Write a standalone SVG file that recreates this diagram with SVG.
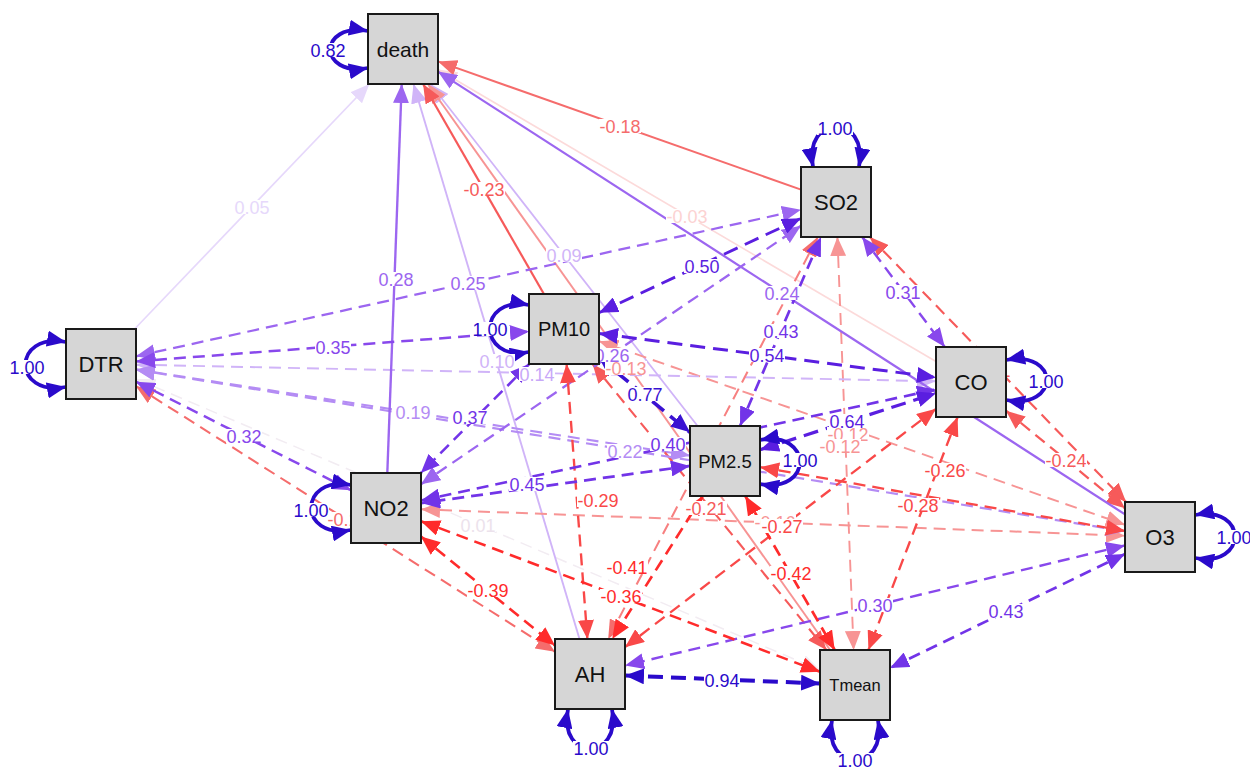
<svg xmlns="http://www.w3.org/2000/svg" width="1250" height="769" viewBox="0 0 1250 769">
<style>
line{fill:none}
.lp{fill:none;stroke:#2a0acb;stroke-width:3.8}
.d{stroke-dasharray:12 7}
.d2{stroke-dasharray:15 8}
.nr{fill:#d6d6d6;stroke:#1a1a1a;stroke-width:2}
.nt{font-family:"Liberation Sans",Arial,sans-serif;text-anchor:middle;fill:#111}
.lt{font-family:"Liberation Sans",Arial,sans-serif;font-size:18px;text-anchor:middle}
.bg{fill:#fff}
</style>
<defs>
<marker id="mB1" viewBox="0 0 19 16" refX="19" refY="8" markerWidth="19" markerHeight="16" markerUnits="userSpaceOnUse" orient="auto-start-reverse"><path d="M0,0L19,8L0,16z" style="fill:#2a0acb"/></marker>
<marker id="mB2" viewBox="0 0 19 16" refX="19" refY="8" markerWidth="19" markerHeight="16" markerUnits="userSpaceOnUse" orient="auto-start-reverse"><path d="M0,0L19,8L0,16z" style="fill:#3a12d2"/></marker>
<marker id="mP1" viewBox="0 0 19 16" refX="19" refY="8" markerWidth="19" markerHeight="16" markerUnits="userSpaceOnUse" orient="auto-start-reverse"><path d="M0,0L19,8L0,16z" style="fill:#5a1ee0"/></marker>
<marker id="mP2" viewBox="0 0 19 16" refX="19" refY="8" markerWidth="19" markerHeight="16" markerUnits="userSpaceOnUse" orient="auto-start-reverse"><path d="M0,0L19,8L0,16z" style="fill:#7234e8"/></marker>
<marker id="mP3" viewBox="0 0 19 16" refX="19" refY="8" markerWidth="19" markerHeight="16" markerUnits="userSpaceOnUse" orient="auto-start-reverse"><path d="M0,0L19,8L0,16z" style="fill:#8848ec"/></marker>
<marker id="mP4" viewBox="0 0 19 16" refX="19" refY="8" markerWidth="19" markerHeight="16" markerUnits="userSpaceOnUse" orient="auto-start-reverse"><path d="M0,0L19,8L0,16z" style="fill:#9c66f0"/></marker>
<marker id="mP5" viewBox="0 0 19 16" refX="19" refY="8" markerWidth="19" markerHeight="16" markerUnits="userSpaceOnUse" orient="auto-start-reverse"><path d="M0,0L19,8L0,16z" style="fill:#b48cf4"/></marker>
<marker id="mP6" viewBox="0 0 19 16" refX="19" refY="8" markerWidth="19" markerHeight="16" markerUnits="userSpaceOnUse" orient="auto-start-reverse"><path d="M0,0L19,8L0,16z" style="fill:#d0b4f8"/></marker>
<marker id="mP7" viewBox="0 0 19 16" refX="19" refY="8" markerWidth="19" markerHeight="16" markerUnits="userSpaceOnUse" orient="auto-start-reverse"><path d="M0,0L19,8L0,16z" style="fill:#e6d8fb"/></marker>
<marker id="mP8" viewBox="0 0 19 16" refX="19" refY="8" markerWidth="19" markerHeight="16" markerUnits="userSpaceOnUse" orient="auto-start-reverse"><path d="M0,0L19,8L0,16z" style="fill:#f2ecf2"/></marker>
<marker id="mR1" viewBox="0 0 19 16" refX="19" refY="8" markerWidth="19" markerHeight="16" markerUnits="userSpaceOnUse" orient="auto-start-reverse"><path d="M0,0L19,8L0,16z" style="fill:#ff2b2b"/></marker>
<marker id="mR2" viewBox="0 0 19 16" refX="19" refY="8" markerWidth="19" markerHeight="16" markerUnits="userSpaceOnUse" orient="auto-start-reverse"><path d="M0,0L19,8L0,16z" style="fill:#f94848"/></marker>
<marker id="mR3" viewBox="0 0 19 16" refX="19" refY="8" markerWidth="19" markerHeight="16" markerUnits="userSpaceOnUse" orient="auto-start-reverse"><path d="M0,0L19,8L0,16z" style="fill:#f65a5a"/></marker>
<marker id="mR4" viewBox="0 0 19 16" refX="19" refY="8" markerWidth="19" markerHeight="16" markerUnits="userSpaceOnUse" orient="auto-start-reverse"><path d="M0,0L19,8L0,16z" style="fill:#f56c6c"/></marker>
<marker id="mR5" viewBox="0 0 19 16" refX="19" refY="8" markerWidth="19" markerHeight="16" markerUnits="userSpaceOnUse" orient="auto-start-reverse"><path d="M0,0L19,8L0,16z" style="fill:#f79494"/></marker>
<marker id="mR6" viewBox="0 0 19 16" refX="19" refY="8" markerWidth="19" markerHeight="16" markerUnits="userSpaceOnUse" orient="auto-start-reverse"><path d="M0,0L19,8L0,16z" style="fill:#fcdada"/></marker>
</defs>
<rect width="1250" height="769" fill="#fff"/>
<g id="connectors">
<line x1="136" y1="378.9" x2="820" y2="670.1" stroke="#f2ecf2" stroke-width="1.5" class="d" marker-start="url(#mP8)" marker-end="url(#mP8)"/>
<line x1="936" y1="361.5" x2="438" y2="69.5" stroke="#fcdada" stroke-width="1.6" marker-end="url(#mR6)"/>
<line x1="134.6" y1="329" x2="369.4" y2="84" stroke="#e6d8fb" stroke-width="1.7" marker-end="url(#mP7)"/>
<line x1="697.6" y1="426" x2="430.4" y2="84" stroke="#d0b4f8" stroke-width="1.8" marker-end="url(#mP6)"/>
<line x1="579.5" y1="639" x2="413.5" y2="84" stroke="#d0b4f8" stroke-width="1.9" marker-end="url(#mP6)"/>
<line x1="599" y1="341.2" x2="1125" y2="524.8" stroke="#f79494" stroke-width="1.9" class="d" marker-start="url(#mR5)" marker-end="url(#mR5)"/>
<line x1="837.4" y1="237" x2="853.6" y2="650" stroke="#f79494" stroke-width="1.9" class="d" marker-start="url(#mR5)" marker-end="url(#mR5)"/>
<line x1="830.1" y1="650" x2="427.9" y2="84" stroke="#f79494" stroke-width="1.95" marker-end="url(#mR5)"/>
<line x1="136" y1="364.7" x2="936" y2="381.3" stroke="#d0b4f8" stroke-width="1.95" class="d" marker-start="url(#mP6)" marker-end="url(#mP6)"/>
<line x1="421" y1="509.3" x2="1125" y2="535.7" stroke="#f79494" stroke-width="2" class="d" marker-start="url(#mR5)" marker-end="url(#mR5)"/>
<line x1="801" y1="189.6" x2="438" y2="61.4" stroke="#f56c6c" stroke-width="2.05" marker-end="url(#mR4)"/>
<line x1="136" y1="386.2" x2="555" y2="651.8" stroke="#f56c6c" stroke-width="2.05" class="d" marker-start="url(#mR4)" marker-end="url(#mR4)"/>
<line x1="817.8" y1="237" x2="608.2" y2="639" stroke="#f78080" stroke-width="2.05" class="d" marker-start="url(#mR4)" marker-end="url(#mR4)"/>
<line x1="136" y1="369.4" x2="690" y2="455.6" stroke="#b48cf4" stroke-width="2.1" class="d" marker-start="url(#mP5)" marker-end="url(#mP5)"/>
<line x1="592.6" y1="364" x2="826.4" y2="650" stroke="#f65a5a" stroke-width="2.15" class="d" marker-start="url(#mR3)" marker-end="url(#mR3)"/>
<line x1="869.9" y1="237" x2="1126.1" y2="502" stroke="#f65a5a" stroke-width="2.15" class="d" marker-start="url(#mR3)" marker-end="url(#mR3)"/>
<line x1="136" y1="369.7" x2="1125" y2="531.3" stroke="#b48cf4" stroke-width="2.2" class="d" marker-start="url(#mP5)" marker-end="url(#mP5)"/>
<line x1="543.9" y1="294" x2="423.1" y2="84" stroke="#f65a5a" stroke-width="2.2" marker-end="url(#mR3)"/>
<line x1="1006" y1="410.7" x2="1125" y2="508.3" stroke="#f65a5a" stroke-width="2.25" class="d" marker-start="url(#mR3)" marker-end="url(#mR3)"/>
<line x1="1125" y1="514.4" x2="438" y2="71.6" stroke="#9c66f0" stroke-width="2.25" marker-end="url(#mP4)"/>
<line x1="136" y1="356.3" x2="801" y2="209.7" stroke="#9c66f0" stroke-width="2.25" class="d" marker-start="url(#mP4)" marker-end="url(#mP4)"/>
<line x1="421" y1="484.2" x2="801" y2="225.8" stroke="#9c66f0" stroke-width="2.3" class="d" marker-start="url(#mP4)" marker-end="url(#mP4)"/>
<line x1="760" y1="467.1" x2="1125" y2="530.9" stroke="#f94848" stroke-width="2.3" class="d" marker-start="url(#mR2)" marker-end="url(#mR2)"/>
<line x1="936" y1="408.8" x2="625" y2="647.2" stroke="#f94848" stroke-width="2.3" class="d" marker-start="url(#mR2)" marker-end="url(#mR2)"/>
<line x1="387.3" y1="473" x2="401.7" y2="84" stroke="#9c66f0" stroke-width="2.35" marker-end="url(#mP4)"/>
<line x1="957.6" y1="417" x2="868.4" y2="650" stroke="#f94848" stroke-width="2.35" class="d" marker-start="url(#mR2)" marker-end="url(#mR2)"/>
<line x1="566.6" y1="364" x2="587.4" y2="639" stroke="#f94848" stroke-width="2.35" class="d" marker-start="url(#mR2)" marker-end="url(#mR2)"/>
<line x1="1125" y1="545.4" x2="625" y2="665.6" stroke="#8848ec" stroke-width="2.4" class="d" marker-start="url(#mP3)" marker-end="url(#mP3)"/>
<line x1="862.2" y1="237" x2="944.8" y2="347" stroke="#8848ec" stroke-width="2.4" class="d" marker-start="url(#mP3)" marker-end="url(#mP3)"/>
<line x1="136" y1="381.7" x2="351" y2="490.3" stroke="#8848ec" stroke-width="2.45" class="d" marker-start="url(#mP3)" marker-end="url(#mP3)"/>
<line x1="136" y1="361.4" x2="529" y2="331.6" stroke="#8848ec" stroke-width="2.5" class="d" marker-start="url(#mP3)" marker-end="url(#mP3)"/>
<line x1="421" y1="521.2" x2="820" y2="671.8" stroke="#ff2b2b" stroke-width="2.55" class="d" marker-start="url(#mR1)" marker-end="url(#mR1)"/>
<line x1="529.2" y1="364" x2="420.8" y2="473" stroke="#7234e8" stroke-width="2.55" class="d" marker-start="url(#mP2)" marker-end="url(#mP2)"/>
<line x1="421" y1="536.5" x2="555" y2="645.5" stroke="#ff2b2b" stroke-width="2.6" class="d" marker-start="url(#mR1)" marker-end="url(#mR1)"/>
<line x1="421" y1="500.5" x2="936" y2="389.5" stroke="#7234e8" stroke-width="2.6" class="d" marker-start="url(#mP2)" marker-end="url(#mP2)"/>
<line x1="702.8" y1="496" x2="612.2" y2="639" stroke="#ff2b2b" stroke-width="2.65" class="d" marker-start="url(#mR1)" marker-end="url(#mR1)"/>
<line x1="745.3" y1="496" x2="834.7" y2="650" stroke="#ff2b2b" stroke-width="2.7" class="d" marker-start="url(#mR1)" marker-end="url(#mR1)"/>
<line x1="740" y1="426" x2="821" y2="237" stroke="#7234e8" stroke-width="2.7" class="d" marker-start="url(#mP2)" marker-end="url(#mP2)"/>
<line x1="1125" y1="554" x2="890" y2="668" stroke="#7234e8" stroke-width="2.7" class="d" marker-start="url(#mP2)" marker-end="url(#mP2)"/>
<line x1="690" y1="465.9" x2="421" y2="503.1" stroke="#7234e8" stroke-width="2.75" class="d" marker-start="url(#mP2)" marker-end="url(#mP2)"/>
<line x1="599" y1="312.7" x2="801" y2="218.3" stroke="#5a1ee0" stroke-width="2.9" class="d2" marker-start="url(#mP1)" marker-end="url(#mP1)"/>
<line x1="599" y1="333.6" x2="936" y2="377.4" stroke="#5a1ee0" stroke-width="3" class="d2" marker-start="url(#mP1)" marker-end="url(#mP1)"/>
<line x1="760" y1="449.8" x2="936" y2="393.2" stroke="#5a1ee0" stroke-width="3.25" class="d2" marker-start="url(#mP1)" marker-end="url(#mP1)"/>
<line x1="599" y1="357.7" x2="690" y2="432.3" stroke="#3a12d2" stroke-width="3.6" class="d2" marker-start="url(#mB2)" marker-end="url(#mB2)"/>
<line x1="625" y1="675.5" x2="820" y2="683.5" stroke="#2a0acb" stroke-width="4" class="d2" marker-start="url(#mB1)" marker-end="url(#mB1)"/>
<path class="lp" d="M368,31 C318,22 318,77 368,68" marker-start="url(#mB1)" marker-end="url(#mB1)"/>
<path class="lp" d="M813,167 C803,113 869,113 859,167" marker-start="url(#mB1)" marker-end="url(#mB1)"/>
<path class="lp" d="M66,342 C12,332 12,397 66,387" marker-start="url(#mB1)" marker-end="url(#mB1)"/>
<path class="lp" d="M529,305 C477,295 477,362 529,352" marker-start="url(#mB1)" marker-end="url(#mB1)"/>
<path class="lp" d="M351,485 C298,475 298,540 351,530" marker-start="url(#mB1)" marker-end="url(#mB1)"/>
<path class="lp" d="M1006,360 C1060,350 1060,410 1006,400" marker-start="url(#mB1)" marker-end="url(#mB1)"/>
<path class="lp" d="M760,440 C813,430 813,494 760,484" marker-start="url(#mB1)" marker-end="url(#mB1)"/>
<path class="lp" d="M1195,515 C1248,505 1248,568 1195,558" marker-start="url(#mB1)" marker-end="url(#mB1)"/>
<path class="lp" d="M568,709 C558,762 622,762 612,709" marker-start="url(#mB1)" marker-end="url(#mB1)"/>
<path class="lp" d="M832,720 C822,773 888,773 878,720" marker-start="url(#mB1)" marker-end="url(#mB1)"/>
</g>
<g id="labels">
<rect class="bg" x="460" y="518" width="36" height="14"/><text class="lt" x="478" y="531.5" fill="#ece2ec">0.01</text>
<rect class="bg" x="666" y="209" width="42" height="14"/><text class="lt" x="687" y="222.5" fill="#fcd2d2">-0.03</text>
<rect class="bg" x="234" y="200" width="36" height="14"/><text class="lt" x="252" y="213.5" fill="#e6d8fb">0.05</text>
<rect class="bg" x="546" y="248" width="36" height="14"/><text class="lt" x="564" y="261.5" fill="#d0b4f8">0.09</text>
<rect class="bg" x="479" y="354" width="36" height="14"/><text class="lt" x="497" y="367.5" fill="#d0b4f8">0.10</text>
<rect class="bg" x="827" y="427" width="42" height="14"/><text class="lt" x="848" y="440.5" fill="#f79494">-0.12</text>
<rect class="bg" x="819" y="439" width="42" height="14"/><text class="lt" x="840" y="452.5" fill="#f79494">-0.12</text>
<rect class="bg" x="605" y="361" width="42" height="14"/><text class="lt" x="626" y="374.5" fill="#f79494">-0.13</text>
<rect class="bg" x="519" y="367" width="36" height="14"/><text class="lt" x="537" y="380.5" fill="#c8a8f8">0.14</text>
<rect class="bg" x="754" y="515" width="42" height="14"/><text class="lt" x="775" y="528.5" fill="#f79494">-0.16</text>
<rect class="bg" x="599" y="119" width="42" height="14"/><text class="lt" x="620" y="132.5" fill="#f56c6c">-0.18</text>
<rect class="bg" x="327" y="512" width="42" height="14"/><text class="lt" x="348" y="525.5" fill="#f56c6c">-0.19</text>
<rect class="bg" x="395" y="405" width="36" height="14"/><text class="lt" x="413" y="418.5" fill="#b48cf4">0.19</text>
<rect class="bg" x="685" y="501" width="42" height="14"/><text class="lt" x="706" y="514.5" fill="#f65a5a">-0.21</text>
<rect class="bg" x="969" y="363" width="42" height="14"/><text class="lt" x="990" y="376.5" fill="#f65a5a">-0.21</text>
<rect class="bg" x="607" y="444" width="36" height="14"/><text class="lt" x="625" y="457.5" fill="#b48cf4">0.22</text>
<rect class="bg" x="463" y="182" width="42" height="14"/><text class="lt" x="484" y="195.5" fill="#f65a5a">-0.23</text>
<rect class="bg" x="1045" y="453" width="42" height="14"/><text class="lt" x="1066" y="466.5" fill="#f65a5a">-0.24</text>
<rect class="bg" x="764" y="286" width="36" height="14"/><text class="lt" x="782" y="299.5" fill="#9c66f0">0.24</text>
<rect class="bg" x="450" y="276" width="36" height="14"/><text class="lt" x="468" y="289.5" fill="#9c66f0">0.25</text>
<rect class="bg" x="594" y="348" width="36" height="14"/><text class="lt" x="612" y="361.5" fill="#9c66f0">0.26</text>
<rect class="bg" x="924" y="463" width="42" height="14"/><text class="lt" x="945" y="476.5" fill="#f94848">-0.26</text>
<rect class="bg" x="761" y="519" width="42" height="14"/><text class="lt" x="782" y="532.5" fill="#f94848">-0.27</text>
<rect class="bg" x="378" y="272" width="36" height="14"/><text class="lt" x="396" y="285.5" fill="#9c66f0">0.28</text>
<rect class="bg" x="897" y="498" width="42" height="14"/><text class="lt" x="918" y="511.5" fill="#f94848">-0.28</text>
<rect class="bg" x="577" y="493" width="42" height="14"/><text class="lt" x="598" y="506.5" fill="#f94848">-0.29</text>
<rect class="bg" x="857" y="598" width="36" height="14"/><text class="lt" x="875" y="611.5" fill="#8848ec">0.30</text>
<rect class="bg" x="885" y="285" width="36" height="14"/><text class="lt" x="903" y="298.5" fill="#8848ec">0.31</text>
<rect class="bg" x="226" y="429" width="36" height="14"/><text class="lt" x="244" y="442.5" fill="#8848ec">0.32</text>
<rect class="bg" x="315" y="340" width="36" height="14"/><text class="lt" x="333" y="353.5" fill="#8848ec">0.35</text>
<rect class="bg" x="600" y="589" width="42" height="14"/><text class="lt" x="621" y="602.5" fill="#ff2b2b">-0.36</text>
<rect class="bg" x="452" y="410" width="36" height="14"/><text class="lt" x="470" y="423.5" fill="#7234e8">0.37</text>
<rect class="bg" x="467" y="583" width="42" height="14"/><text class="lt" x="488" y="596.5" fill="#ff2b2b">-0.39</text>
<rect class="bg" x="650" y="437" width="36" height="14"/><text class="lt" x="668" y="450.5" fill="#7234e8">0.40</text>
<rect class="bg" x="606" y="560" width="42" height="14"/><text class="lt" x="627" y="573.5" fill="#ff2b2b">-0.41</text>
<rect class="bg" x="770" y="566" width="42" height="14"/><text class="lt" x="791" y="579.5" fill="#ff2b2b">-0.42</text>
<rect class="bg" x="763" y="324" width="36" height="14"/><text class="lt" x="781" y="337.5" fill="#7234e8">0.43</text>
<rect class="bg" x="988" y="604" width="36" height="14"/><text class="lt" x="1006" y="617.5" fill="#7234e8">0.43</text>
<rect class="bg" x="509" y="477" width="36" height="14"/><text class="lt" x="527" y="490.5" fill="#7234e8">0.45</text>
<rect class="bg" x="684" y="259" width="36" height="14"/><text class="lt" x="702" y="272.5" fill="#5a1ee0">0.50</text>
<rect class="bg" x="749" y="348" width="36" height="14"/><text class="lt" x="767" y="361.5" fill="#5a1ee0">0.54</text>
<rect class="bg" x="829" y="414" width="36" height="14"/><text class="lt" x="847" y="427.5" fill="#5a1ee0">0.64</text>
<rect class="bg" x="627" y="387" width="36" height="14"/><text class="lt" x="645" y="400.5" fill="#3a12d2">0.77</text>
<rect class="bg" x="704" y="673" width="36" height="14"/><text class="lt" x="722" y="686.5" fill="#2a0acb">0.94</text>
<rect class="bg" x="310" y="43" width="36" height="14"/><text class="lt" x="328" y="56.5" fill="#2a0acb">0.82</text>
<rect class="bg" x="817" y="121" width="36" height="14"/><text class="lt" x="835" y="134.5" fill="#2a0acb">1.00</text>
<rect class="bg" x="9" y="360" width="36" height="14"/><text class="lt" x="27" y="373.5" fill="#2a0acb">1.00</text>
<rect class="bg" x="472" y="322" width="36" height="14"/><text class="lt" x="490" y="335.5" fill="#2a0acb">1.00</text>
<rect class="bg" x="293" y="503" width="36" height="14"/><text class="lt" x="311" y="516.5" fill="#2a0acb">1.00</text>
<rect class="bg" x="1028" y="374" width="36" height="14"/><text class="lt" x="1046" y="387.5" fill="#2a0acb">1.00</text>
<rect class="bg" x="782" y="453" width="36" height="14"/><text class="lt" x="800" y="466.5" fill="#2a0acb">1.00</text>
<rect class="bg" x="1216" y="530" width="36" height="14"/><text class="lt" x="1234" y="543.5" fill="#2a0acb">1.00</text>
<rect class="bg" x="573" y="741" width="36" height="14"/><text class="lt" x="591" y="754.5" fill="#2a0acb">1.00</text>
<rect class="bg" x="837" y="753" width="36" height="14"/><text class="lt" x="855" y="766.5" fill="#2a0acb">1.00</text>
</g>
<g id="death"><rect class="nr" x="368" y="14" width="70" height="70"/><text class="nt" x="403" y="56.5" font-size="21">death</text></g>
<g id="SO2"><rect class="nr" x="801" y="167" width="70" height="70"/><text class="nt" x="836" y="210" font-size="22">SO2</text></g>
<g id="DTR"><rect class="nr" x="66" y="329" width="70" height="70"/><text class="nt" x="101" y="372" font-size="22">DTR</text></g>
<g id="PM10"><rect class="nr" x="529" y="294" width="70" height="70"/><text class="nt" x="564" y="336" font-size="20">PM10</text></g>
<g id="CO"><rect class="nr" x="936" y="347" width="70" height="70"/><text class="nt" x="971" y="390" font-size="22">CO</text></g>
<g id="PM2.5"><rect class="nr" x="690" y="426" width="70" height="70"/><text class="nt" x="725" y="467.5" font-size="18.5">PM2.5</text></g>
<g id="NO2"><rect class="nr" x="351" y="473" width="70" height="70"/><text class="nt" x="386" y="516" font-size="22">NO2</text></g>
<g id="O3"><rect class="nr" x="1125" y="502" width="70" height="70"/><text class="nt" x="1160" y="545" font-size="22">O3</text></g>
<g id="AH"><rect class="nr" x="555" y="639" width="70" height="70"/><text class="nt" x="590" y="682" font-size="22">AH</text></g>
<g id="Tmean"><rect class="nr" x="820" y="650" width="70" height="70"/><text class="nt" x="855" y="691" font-size="16.5">Tmean</text></g>
</svg>
